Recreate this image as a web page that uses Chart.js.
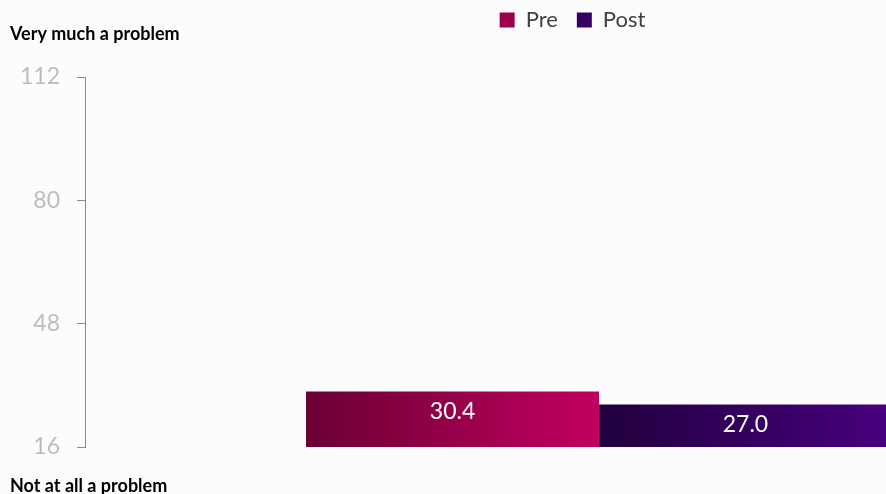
<!DOCTYPE html>
<html>
<head>
<meta charset="utf-8">
<script src="https://cdn.jsdelivr.net/npm/chart.js@4.4.1/dist/chart.umd.min.js"></script>
<style>
  html, body { margin: 0; padding: 0; background: #fcfcfd; }
  #frame { width: 886px; height: 494px; overflow: hidden; position: relative; }
  canvas { display: block; }
</style>
</head>
<body>
<div id="frame"><canvas id="chart" width="1144" height="494"></canvas></div>
<script>
// Survey scale: mean problem score before and after
const categories = [''];
const seriesNames = ['Pre', 'Post'];
const preValues = [30.4];
const postValues = [27.0];
const yTicks = [16, 48, 80, 112];
const topLabel = 'Very much a problem';
const bottomLabel = 'Not at all a problem';

const FONT = 'Lato, "Open Sans", "Liberation Sans", sans-serif';
const CAT_PCT = 0.57;

// left-to-right colour ramps for each series
const ramps = [
  ['#6a0034', '#c1005f'],
  ['#21003d', '#48007f']
];

function barGradient(ctx) {
  const chart = ctx.chart;
  const [from, to] = ramps[ctx.datasetIndex];
  const xs = chart.scales.x;
  if (!xs || !chart.chartArea) return from;
  const n = chart.data.datasets.length;
  const catW = xs.width / chart.data.labels.length;
  const groupW = catW * CAT_PCT;
  const barW = groupW / n;
  const center = xs.getPixelForValue(ctx.dataIndex);
  const left = center - groupW / 2 + ctx.datasetIndex * barW;
  const g = chart.ctx.createLinearGradient(left, 0, left + barW, 0);
  g.addColorStop(0, from);
  g.addColorStop(1, to);
  return g;
}

// extra room under the legend, and a small nudge of the legend itself
const legendSpacing = {
  id: 'legendSpacing',
  beforeUpdate(chart) {
    const lg = chart.legend;
    if (lg && !lg._spaced) {
      const fit = lg.fit;
      lg.fit = function () { fit.call(this); this.height += 26; };
      lg._spaced = true;
    }
  },
  afterLayout(chart) {
    const lg = chart.legend;
    if (!lg) return;
    lg.top -= 10; lg.bottom -= 10;
    lg.left += 6; lg.right += 6;
  }
};

// value labels inside the bars and the scale end captions
const annotate = {
  id: 'annotate',
  afterDatasetsDraw(chart) {
    const c = chart.ctx;
    c.save();
    c.fillStyle = '#ffffff';
    c.font = '23px ' + FONT;
    c.textAlign = 'center';
    c.textBaseline = 'middle';
    chart.data.datasets.forEach((ds, i) => {
      chart.getDatasetMeta(i).data.forEach((el, j) => {
        c.fillText(ds.data[j].toFixed(1), el.x, el.y + 20);
      });
    });
    c.restore();
  },
  afterDraw(chart) {
    const c = chart.ctx;
    c.save();
    c.fillStyle = '#000000';
    c.font = 'bold 18px ' + FONT;
    c.textAlign = 'left';
    c.textBaseline = 'middle';
    c.fillText(topLabel, 10, 34);
    c.fillText(bottomLabel, 10, 486);
    c.restore();
  }
};

new Chart(document.getElementById('chart'), {
  type: 'bar',
  data: {
    labels: categories,
    datasets: [
      { label: seriesNames[0], data: preValues, backgroundColor: barGradient },
      { label: seriesNames[1], data: postValues, backgroundColor: barGradient }
    ]
  },
  options: {
    responsive: false,
    animation: false,
    categoryPercentage: CAT_PCT,
    barPercentage: 1,
    layout: { padding: { left: 20, right: 31, top: 0, bottom: 47 } },
    plugins: {
      tooltip: { enabled: false },
      legend: {
        position: 'top',
        labels: {
          color: '#404040',
          font: { family: FONT, size: 22 },
          boxWidth: 15,
          boxHeight: 15,
          padding: 19,
          generateLabels(chart) {
            const solid = ['#9c004b', '#35005f'];
            return chart.data.datasets.map((ds, i) => ({
              text: ds.label,
              fillStyle: solid[i],
              strokeStyle: solid[i],
              lineWidth: 0,
              fontColor: '#404040',
              datasetIndex: i,
              hidden: false
            }));
          }
        }
      }
    },
    scales: {
      x: { display: false },
      y: {
        min: yTicks[0],
        max: yTicks[yTicks.length - 1],
        afterBuildTicks(scale) { scale.ticks = yTicks.map(v => ({ value: v })); },
        afterFit(scale) { scale.width = 65; },
        border: { display: true, color: '#8a8a8a', width: 1 },
        grid: { drawOnChartArea: false, drawTicks: true, tickLength: 8, color: '#8a8a8a' },
        ticks: { color: '#bdbdbd', padding: 17, font: { family: FONT, size: 23 } }
      }
    }
  },
  plugins: [legendSpacing, annotate]
});
</script>
</body>
</html>
